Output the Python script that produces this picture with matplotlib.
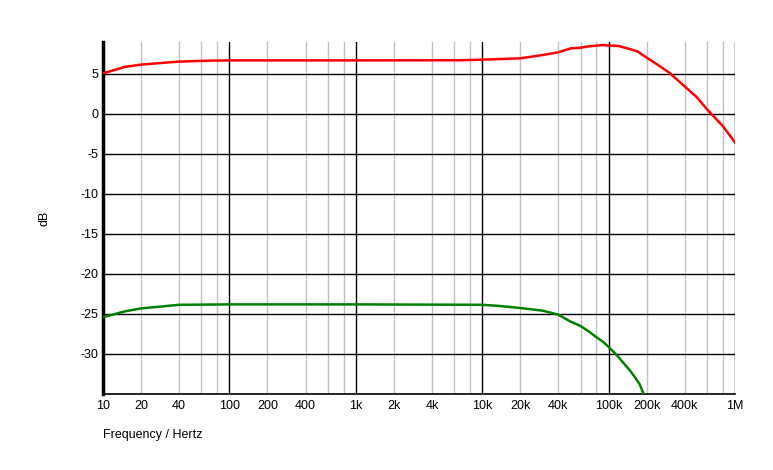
import numpy as np
import matplotlib.pyplot as plt
from matplotlib.ticker import FixedLocator, FixedFormatter

# frequency response
freqRed = [10, 15, 20, 30, 40, 70, 100, 1000, 6700, 10000, 20000, 30000, 40000,
           50000, 60000, 70000, 80000, 90000, 100000, 120000, 150000, 170000,
           200000, 250000, 300000, 400000, 500000, 600000, 800000, 1000000]
gainRed = [5.08, 5.9, 6.17, 6.4, 6.55, 6.67, 6.7, 6.7, 6.72, 6.79, 6.96, 7.37,
           7.71, 8.2, 8.29, 8.46, 8.54, 8.62, 8.56, 8.5, 8.08, 7.8, 7.05, 6.05,
           5.2, 3.45, 2.08, 0.6, -1.5, -3.55]

freqGreen = [10, 15, 20, 30, 40, 100, 1000, 10000, 13800, 20000, 30000, 40000,
             50000, 60000, 70000, 80000, 90000, 100000, 120000, 150000, 175000,
             190000, 200000]
gainGreen = [-25.4, -24.66, -24.3, -24.04, -23.85, -23.8, -23.8, -23.85, -24.0,
             -24.25, -24.58, -25.08, -25.95, -26.5, -27.2, -27.9, -28.45, -29.1,
             -30.4, -32.2, -33.7, -35.0, -35.6]

majorTicks = [10, 100, 1000, 10000, 100000, 1000000]
labelTicks = [10, 20, 40, 100, 200, 400, 1000, 2000, 4000, 10000, 20000, 40000,
              100000, 200000, 400000, 1000000]
tickLabels = ['10', '20', '40', '100', '200', '400', '1k', '2k', '4k', '10k',
              '20k', '40k', '100k', '200k', '400k', '1M']
minorTicks = [d * m for d in [10, 100, 1000, 10000, 100000] for m in [2, 4, 6, 8]]
yTicks = [5, 0, -5, -10, -15, -20, -25, -30]

plt.rcParams['font.family'] = ['Liberation Sans', 'DejaVu Sans']
plt.rcParams['font.size'] = 9
plt.rcParams['axes.unicode_minus'] = False

fig = plt.figure(figsize=(7.73, 4.70), dpi=100)
ax = fig.add_axes([103 / 773, 1 - 394 / 470, 632 / 773, 352 / 470])

ax.set_xscale('log')
ax.set_xlim(10, 1000000)
ax.set_ylim(-35, 9)

# grid drawn by hand so the minor/major colours match
for f in minorTicks:
    ax.axvline(f, color='#c0c0c0', lw=1, zorder=1)
for f in majorTicks:
    ax.axvline(f, color='black', lw=1, zorder=2)
for y in yTicks:
    ax.axhline(y, color='black', lw=1, zorder=2)

ax.plot(freqRed, gainRed, color='#ff0000', lw=1.8, zorder=3)
ax.plot(freqGreen, gainGreen, color='#008000', lw=1.8, zorder=3)

ax.xaxis.set_major_locator(FixedLocator(labelTicks))
ax.xaxis.set_major_formatter(FixedFormatter(tickLabels))
ax.xaxis.set_minor_locator(FixedLocator([]))
ax.set_yticks(yTicks)
ax.tick_params(axis='both', length=0, pad=3)
ax.tick_params(axis='x', pad=4)

for side in ['top', 'right']:
    ax.spines[side].set_visible(False)
ax.spines['left'].set_linewidth(2.5)
ax.spines['bottom'].set_linewidth(1.2)

fig.text(103 / 773, 1 - 435 / 470, 'Frequency / Hertz', ha='left', va='center')
fig.text(44 / 773, 1 - 218 / 470, 'dB', ha='center', va='center', rotation=90)

plt.savefig('out.png', dpi=100)
